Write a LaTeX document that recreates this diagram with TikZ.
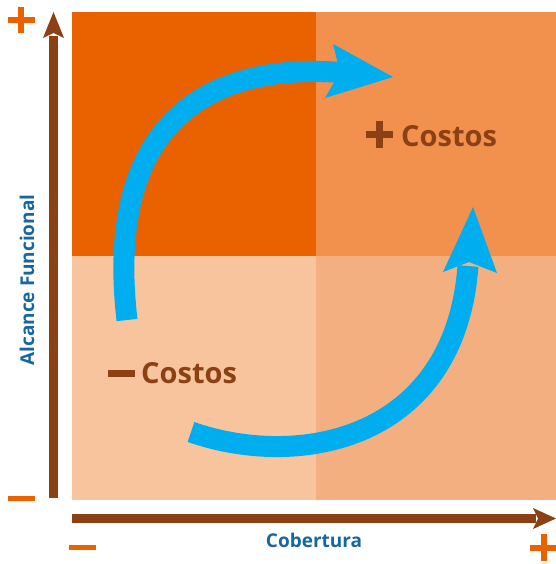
\documentclass[tikz,border=0pt]{standalone}
\usepackage{fontspec}
\setmainfont{Open Sans}
\definecolor{qTL}{RGB}{234,97,0}
\definecolor{qTR}{RGB}{242,145,77}
\definecolor{qBL}{RGB}{248,196,158}
\definecolor{qBR}{RGB}{244,175,128}
\definecolor{arrblue}{RGB}{0,174,239}
\definecolor{axbrown}{RGB}{139,65,20}
\definecolor{axblue}{RGB}{22,102,160}
\definecolor{markorange}{RGB}{234,97,0}
\tikzset{
  axisline/.style={draw=axbrown, line width=9bp},
  axishead/.style={fill=axbrown},
  bigarrow/.style={draw=arrblue, line width=21bp},
  bighead/.style={fill=arrblue},
  costlabel/.style={text=axbrown, font=\bfseries\fontsize{29bp}{31bp}\selectfont, inner sep=0pt, anchor=base west},
  axislabel/.style={text=axblue, font=\bfseries\fontsize{19bp}{21bp}\selectfont, inner sep=0pt},
}
\begin{document}
\begin{tikzpicture}[x=1bp,y=-1bp]
\useasboundingbox (0,0) rectangle (556,564);
% quadrants
\fill[qTL] (72,12) rectangle (316,256);
\fill[qTR] (316,12) rectangle (556,256);
\fill[qBL] (72,256) rectangle (316,500);
\fill[qBR] (316,256) rectangle (556,500);
% axes
\coordinate (yfoot) at (53.5,498);
\coordinate (ytip) at (53.5,12);
\coordinate (xfoot) at (72,518.5);
\coordinate (xtip) at (556,518.5);
\draw[axisline] (yfoot) -- (53.5,36);
\fill[axishead] (43,38) -- (ytip) -- (64,38) -- (53.5,33) -- cycle;
\draw[axisline] (xfoot) -- (536,518.5);
\fill[axishead] (533,508) -- (xtip) -- (533,529) -- (538,518.5) -- cycle;
% axis end marks
\fill[markorange] (8,17) rectangle (35,23);
\fill[markorange] (18,7) rectangle (24,33);
\fill[markorange] (8,495.5) rectangle (35,501);
\fill[markorange] (69,544.5) rectangle (96,550);
\fill[markorange] (530,544.5) rectangle (557,550.5);
\fill[markorange] (540.5,534) rectangle (546.5,561);
% axis labels
\node[axislabel] (cob) at (314,540) {Cobertura};
\node[axislabel, rotate=90] (alc) at (27,280) {Alcance Funcional};
% blue arrows
\coordinate (a1s) at (127,320);
\coordinate (a1e) at (342,72.5);
\draw[bigarrow] (a1s) .. controls (105,130) and (200,62) .. (a1e);
\fill[bighead] (333,44) -- (393,77) -- (325,98) -- (340,72) -- cycle;
\coordinate (a2s) at (191,432);
\coordinate (a2e) at (468,266);
\draw[bigarrow] (a2s) .. controls (300,470) and (455,440) .. (a2e);
\fill[bighead] (443,272) -- (473,207) -- (497,273) -- (469,262) -- cycle;
% cost labels
\fill[axbrown] (366,131.5) rectangle (393,138.5);
\fill[axbrown] (376,121) rectangle (383,148);
\node[costlabel] (pc) at (401,147) {Costos};
\fill[axbrown] (108,370) rectangle (135,377);
\node[costlabel] (mc) at (141,383) {Costos};
\end{tikzpicture}
\end{document}
